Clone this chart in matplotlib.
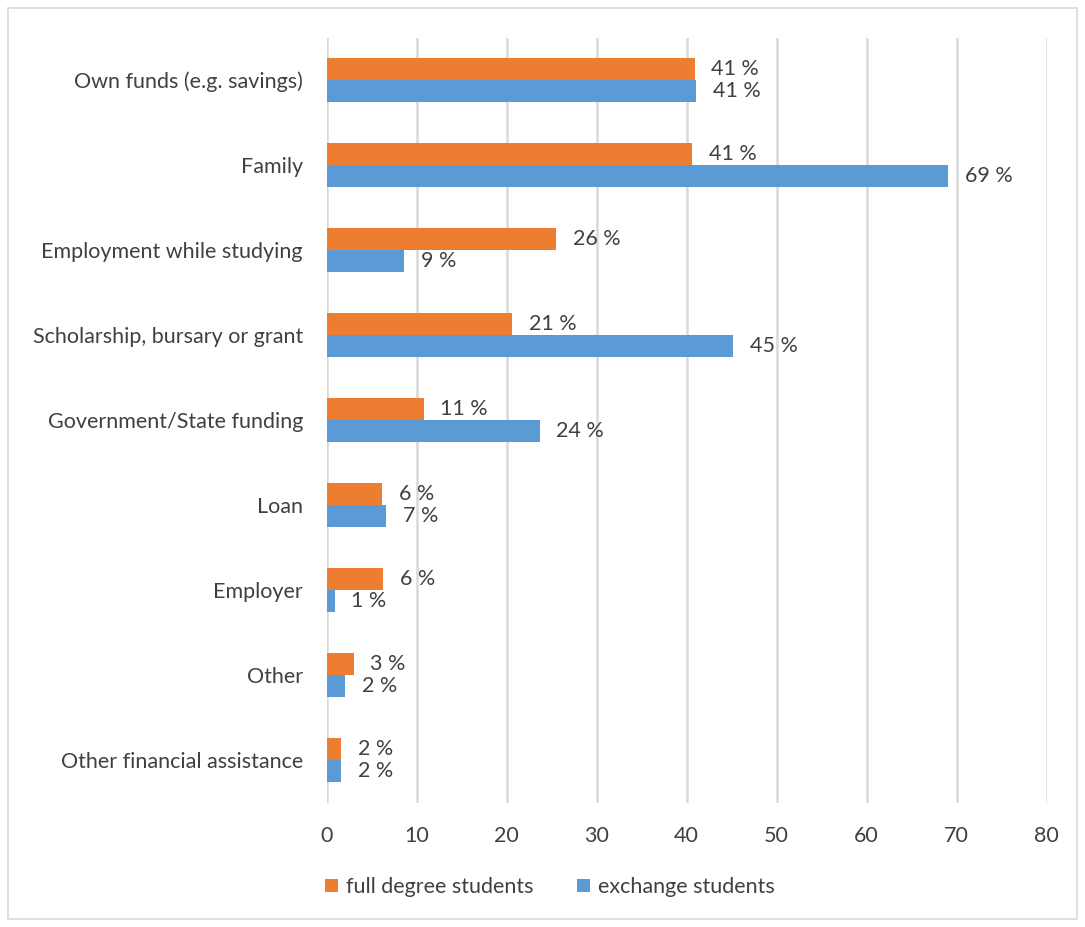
import matplotlib
matplotlib.use("Agg")
import matplotlib.pyplot as plt
from matplotlib.patches import Rectangle
import numpy as np

categories = ["Own funds (e.g. savings)", "Family", "Employment while studying",
              "Scholarship, bursary or grant", "Government/State funding", "Loan",
              "Employer", "Other", "Other financial assistance"]
full_degree = [40.9, 40.6, 25.5, 20.6, 10.8, 6.2, 6.3, 3.0, 1.6]
exchange = [41.1, 69.1, 8.6, 45.2, 23.7, 6.6, 0.9, 2.1, 1.65]
series_names = ["full degree students", "exchange students"]
xticks = [0, 10, 20, 30, 40, 50, 60, 70, 80]

ORANGE = "#ED7D31"
BLUE = "#5B9BD5"
TXT = "#404040"
GRID = "#d9d9d9"
FS = 15.5

plt.rcParams['font.family'] = ['Lato', 'DejaVu Sans']

fig = plt.figure(figsize=(10.85, 9.27), dpi=100)
fig.patches.append(Rectangle((8 / 1085, 8 / 927), 1069 / 1085, 911 / 927,
                             transform=fig.transFigure, fill=False,
                             edgecolor=GRID, linewidth=1.2))
ax = fig.add_axes([326.5 / 1085, 124.5 / 927, 720 / 1085, 765 / 927])

y = np.arange(len(categories))
h = 0.26
b1 = ax.barh(y - h / 2, full_degree, height=h, color=ORANGE, label=series_names[0], zorder=3)
b2 = ax.barh(y + h / 2, exchange, height=h, color=BLUE, label=series_names[1], zorder=3)

for bars, vals in ((b1, full_degree), (b2, exchange)):
    for bar, v in zip(bars, vals):
        ax.annotate(f"{int(v + 0.5):d} %", (v, bar.get_y() + bar.get_height() / 2),
                    xytext=(12, 0), textcoords="offset points",
                    ha="left", va="center", fontsize=FS, color=TXT)

ax.set_xlim(0, 80)
ax.set_ylim(len(categories) - 0.5, -0.5)
ax.set_xticks(xticks)
ax.set_xticklabels([str(t) for t in xticks])
ax.set_yticks(y)
ax.set_yticklabels(categories)
ax.tick_params(axis="both", length=0, labelsize=FS, labelcolor=TXT)
ax.tick_params(axis="y", pad=17)
ax.tick_params(axis="x", pad=17)
ax.grid(axis="x", color=GRID, linewidth=1.8, zorder=0)
for s in ax.spines.values():
    s.set_visible(False)

leg = fig.legend(handles=[b1, b2], labels=series_names, loc="center",
                 bbox_to_anchor=(550 / 1085, 1 - 887 / 927), ncol=2, frameon=False,
                 fontsize=FS, handlelength=0.6, handleheight=0.6, handletextpad=0.4,
                 columnspacing=2.0)
for t in leg.get_texts():
    t.set_color(TXT)

fig.savefig("out.png", dpi=100)
